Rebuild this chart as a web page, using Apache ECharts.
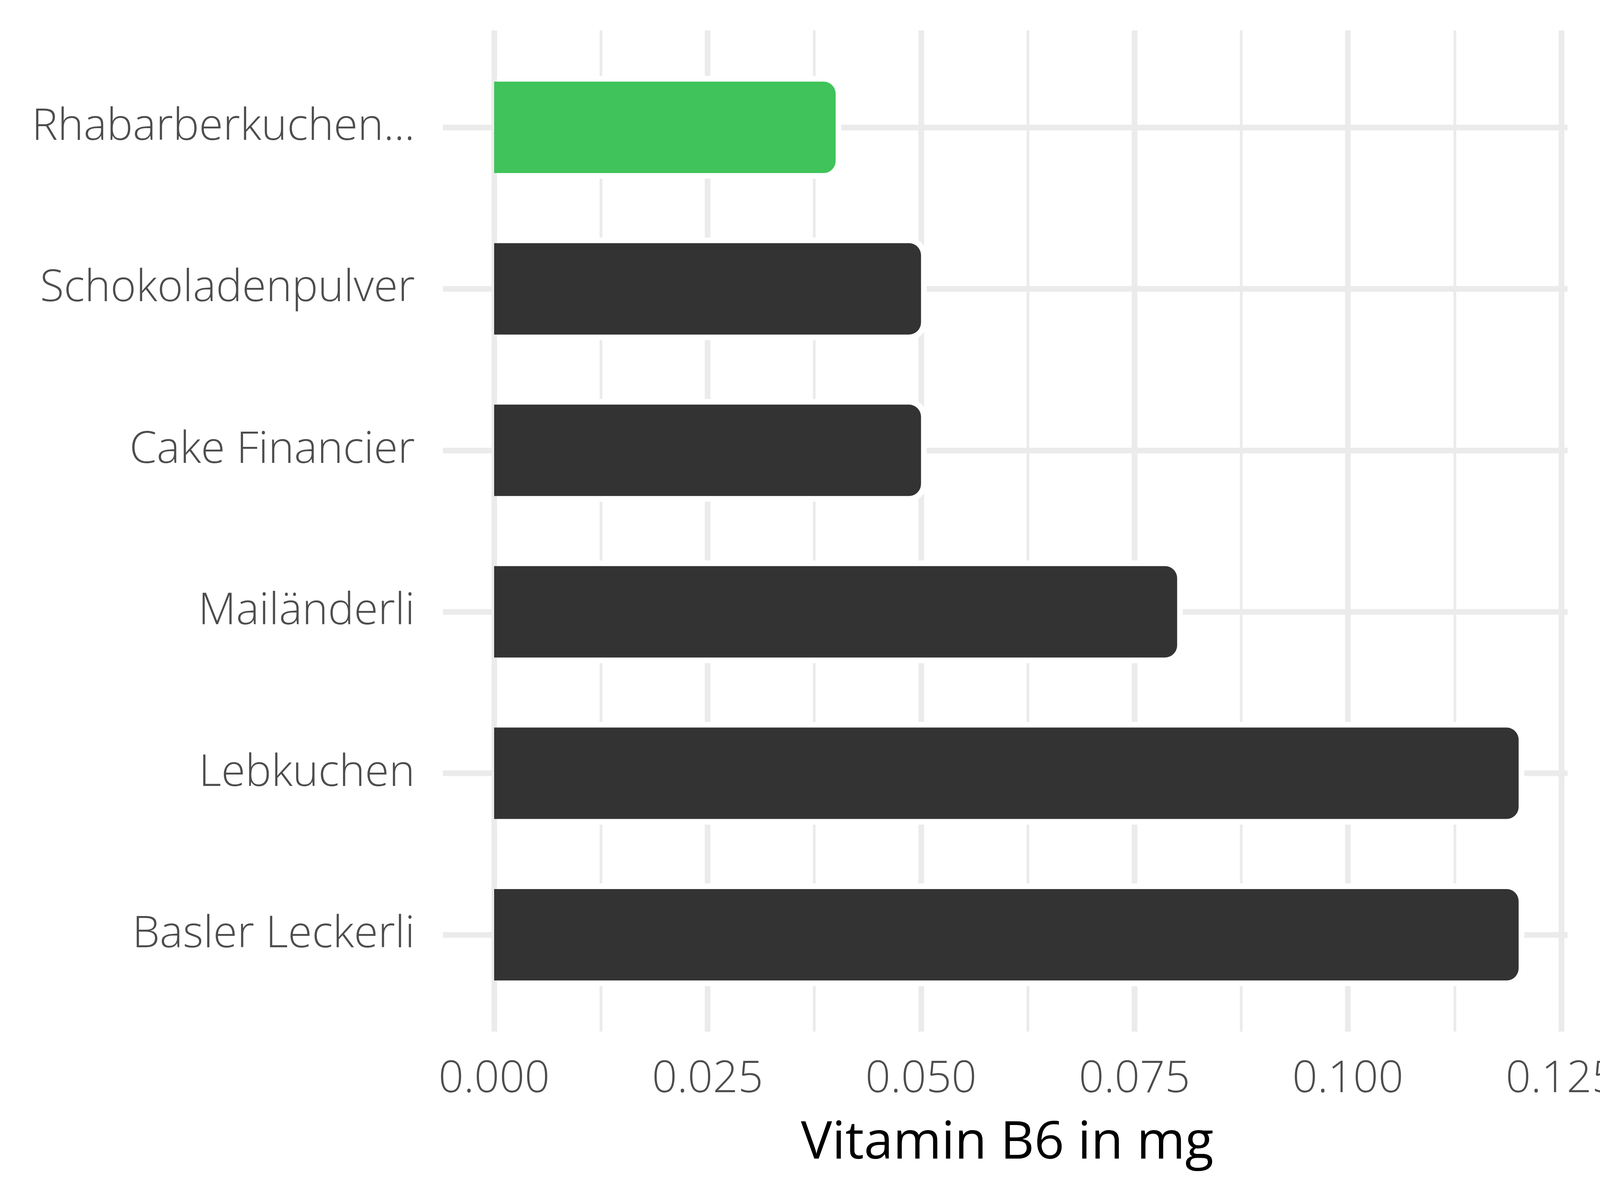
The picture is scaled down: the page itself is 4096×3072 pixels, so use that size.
<!DOCTYPE html>
<html>
<head>
<meta charset="utf-8">
<script src="https://cdn.jsdelivr.net/npm/echarts@6/dist/echarts.min.js"></script>
<style>html,body{margin:0;padding:0;background:#fff;}#c{width:4096px;height:3072px;}</style>
</head>
<body>
<div id="c"></div>
<script>
// ---- data ----
const categories = ['Rhabarberkuchen...', 'Schokoladenpulver', 'Cake Financier', 'Mailänderli', 'Lebkuchen', 'Basler Leckerli'];
const values = [0.04, 0.05, 0.05, 0.08, 0.12, 0.12];
const barColors = ['#3FC35A', '#333333', '#333333', '#333333', '#333333', '#333333'];
const xTicks = [0, 0.025, 0.05, 0.075, 0.1, 0.125];
const xTickLabels = ['0.000', '0.025', '0.050', '0.075', '0.100', '0.125'];
const axisTitle = 'Vitamin B6 in mg';

// ---- layout (output px) ----
const FONT = '"Open Sans", "Noto Sans", sans-serif';
const A = {left: 1265, right: 3997, top: 78, bottom: 2641};   // panel for vertical grid lines (0 .. 0.125)
const B = {left: 1134, right: 4013, top: 326, bottom: 2393};  // category centres, full panel width
const GRID_MAJOR = 14.5, GRID_MINOR = 7;
const BAR_H = 234, HALO = 14.5, R = 31;
const XMAX = xTicks[xTicks.length - 1];
const s = (A.right - A.left) / XMAX;
const bMin = -(A.left - B.left) / s;
const bMax = XMAX + (B.right - A.right) / s;

const chart = echarts.init(document.getElementById('c'), null, {renderer: 'canvas'});
chart.setOption({
  backgroundColor: '#ffffff',
  animation: false,
  title: {
    text: axisTitle,
    left: (B.left + B.right) / 2,
    textAlign: 'center',
    top: 2856,
    textStyle: {fontFamily: FONT, fontSize: 134, fontWeight: 'normal', color: '#000000'}
  },
  grid: [
    {left: A.left, width: A.right - A.left, top: A.top, height: A.bottom - A.top, outerBoundsMode: 'none', containLabel: false},
    {left: B.left, width: B.right - B.left, top: B.top, height: B.bottom - B.top, outerBoundsMode: 'none', containLabel: false}
  ],
  xAxis: [
    {
      type: 'value', gridIndex: 0, min: 0, max: XMAX, interval: 0.025,
      axisLine: {show: false}, axisTick: {show: false},
      axisLabel: {
        show: true, margin: 66, showMaxLabel: true, showMinLabel: true, hideOverlap: false,
        fontFamily: FONT, fontSize: 113, fontWeight: 300, color: '#4D4D4D',
        formatter: v => xTickLabels[Math.round(v / 0.025)]
      },
      splitLine: {show: true, lineStyle: {color: '#EBEBEB', width: GRID_MAJOR}},
      minorTick: {show: false, splitNumber: 2},
      minorSplitLine: {show: true, lineStyle: {color: '#EBEBEB', width: GRID_MINOR}}
    },
    {
      type: 'value', gridIndex: 1, min: bMin, max: bMax,
      axisLine: {show: false}, axisTick: {show: false}, axisLabel: {show: false},
      splitLine: {show: false}
    }
  ],
  yAxis: [
    {type: 'value', gridIndex: 0, show: false, splitLine: {show: false}},
    {
      type: 'category', gridIndex: 1, data: categories, inverse: true, boundaryGap: false,
      axisLine: {show: false}, axisTick: {show: false},
      axisLabel: {margin: 72, fontFamily: FONT, fontSize: 112, fontWeight: 300, color: '#4D4D4D'},
      splitLine: {show: true, lineStyle: {color: '#EBEBEB', width: GRID_MAJOR}}
    }
  ],
  series: [
    {
      type: 'custom', xAxisIndex: 1, yAxisIndex: 1, z: 2, clip: false, silent: true,
      encode: {x: 0, y: 1},
      data: values.map((v, i) => [v, i]),
      renderItem: (params, api) => {
        const p0 = api.coord([0, api.value(1)]);
        const p1 = api.coord([api.value(0), api.value(1)]);
        const x0 = p0[0] + GRID_MAJOR / 2;
        return {
          type: 'rect',
          shape: {x: x0, y: p0[1] - BAR_H / 2 - HALO, width: p1[0] - x0 + HALO, height: BAR_H + 2 * HALO,
                  r: [0, R + HALO, R + HALO, 0]},
          style: {fill: '#ffffff'}
        };
      }
    },
    {
      type: 'bar', xAxisIndex: 1, yAxisIndex: 1, z: 3, clip: false, barWidth: BAR_H,
      data: values.map((v, i) => ({value: v, itemStyle: {color: barColors[i]}})),
      itemStyle: {borderRadius: [0, R, R, 0]}
    }
  ]
});
</script>
</body>
</html>
